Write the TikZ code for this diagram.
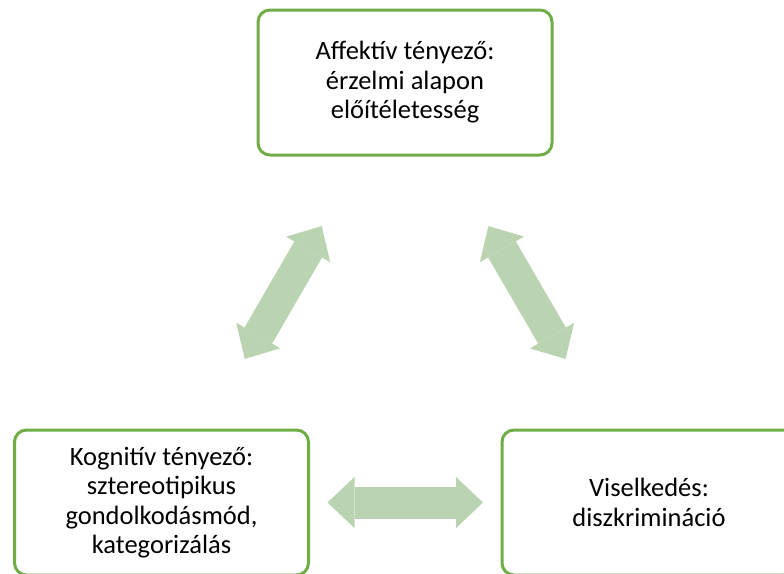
\documentclass[tikz,border=0pt]{standalone}
\usepackage{fontspec}
\setmainfont{Carlito}
\usetikzlibrary{arrows.meta,positioning}
\definecolor{boxgreen}{RGB}{112,173,71}
\definecolor{arrowgreen}{RGB}{186,211,177}
\tikzset{
  factor/.style={draw=boxgreen, line width=3pt, rounded corners=12pt,
    minimum width=294pt, minimum height=145pt, inner sep=0pt, align=center,
    font=\fontsize{26.5}{29.5}\selectfont},
  link/.style={draw=arrowgreen, line width=32pt,
    {Triangle[width=51pt,length=27pt,line width=0pt]}-{Triangle[width=51pt,length=27pt,line width=0pt]},
    shorten <=166pt, shorten >=166pt}
}
\begin{document}
\begin{tikzpicture}[x=1pt,y=-1pt]
    \useasboundingbox (0,0) rectangle (784,573);
    \node[factor] (aff) at (405,82.5) {Affektív tényező:\\érzelmi alapon\\előítéletesség};
    \node[factor] (kog) at ([shift={+(-243.5,420)}]aff) {Kognitív tényező:\\sztereotipikus\\gondolkodásmód,\\kategorizálás};
    \node[factor] (vis) at ([shift={+(244,420)}]aff) {Viselkedés:\\diszkrimináció};
    \draw[link] (kog.center)--(aff.center);
    \draw[link] (aff.center)--(vis.center);
    \draw[link] (kog.center)--(vis.center);
\end{tikzpicture}
\end{document}
